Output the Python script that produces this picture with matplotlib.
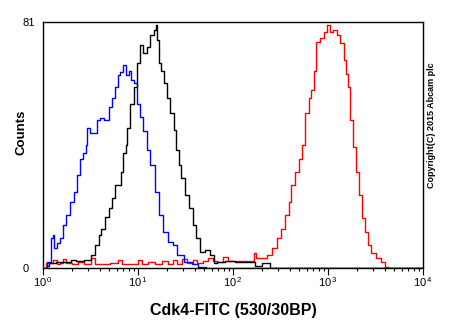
import numpy as np
import matplotlib
matplotlib.use("Agg")
import matplotlib.pyplot as plt
from matplotlib.ticker import LogLocator, FixedLocator, FixedFormatter, NullFormatter

plt.rcParams['font.family'] = ['Liberation Sans', 'DejaVu Sans']
plt.rcParams['mathtext.fontset'] = 'custom'
plt.rcParams['mathtext.rm'] = 'Liberation Sans'

# log10 of FITC intensity and counts
blue_log = [0.02, 0.07, 0.09, 0.11, 0.13, 0.16, 0.20, 0.23, 0.26, 0.31, 0.34, 0.37, 0.41, 0.44, 0.46,
            0.47, 0.52, 0.55, 0.58, 0.62, 0.67, 0.71, 0.74, 0.78, 0.79, 0.83, 0.86, 0.88, 0.92, 0.94,
            0.97, 1.00, 1.04, 1.07, 1.11, 1.15, 1.20, 1.25, 1.28, 1.34, 1.39, 1.44, 1.53, 1.60, 1.67,
            1.75, 4.00]
blue_counts = [0, 2, 10, 11, 6.6, 8.2, 10, 14, 17.5, 21.7, 25, 30.6, 36, 38, 40.5,
               46, 44.5, 44.5, 48.7, 49.4, 48.7, 53, 56, 59.6, 63.5, 64.5, 66.8, 63.5, 65, 62,
               61, 54, 49.7, 45, 39, 34, 25, 17.5, 12, 8.6, 7.6, 4.3, 2, 1.3, 0.3,
               0, 0]

black_log = [0.04, 0.09, 0.18, 0.28, 0.31, 0.39, 0.47, 0.53, 0.57, 0.60, 0.63, 0.67, 0.71, 0.74,
             0.78, 0.81, 0.83, 0.86, 0.88, 0.89, 0.94, 0.97, 1.00, 1.04, 1.07, 1.11, 1.15, 1.18,
             1.20, 1.21, 1.23, 1.26, 1.28, 1.32, 1.36, 1.39, 1.42, 1.44, 1.47, 1.52, 1.55, 1.60,
             1.63, 1.67, 1.73, 1.78, 1.81, 1.86, 1.97, 2.07, 2.21, 2.26, 2.34, 2.37, 2.41, 4.00]
black_counts = [0.5, 1.6, 2, 2, 2.6, 2.3, 2.6, 4.3, 7.6, 11, 13, 16.8, 19.7, 23,
                27.3, 27.3, 31.6, 38, 40.5, 46, 54, 59.6, 67.5, 73.4, 70.8, 72.8, 76.7, 78.4,
                80, 75, 67.5, 65, 61, 56, 51, 45.4, 38.8, 34, 29.6, 24, 19.7, 14,
                10, 5.3, 6, 4.3, 1.6, 2, 2.3, 2, 2, 0.5, 1.6, 1.6, 0, 0]

red_log = [0.02, 0.05, 0.09, 0.13, 0.16, 0.20, 0.23, 0.26, 0.34, 0.39, 0.47, 0.53, 0.57, 0.65,
           0.76, 0.81, 0.86, 0.97, 1.02, 1.07, 1.13, 1.23, 1.28, 1.34, 1.39, 1.44, 1.49, 1.55,
           1.60, 1.65, 1.71, 1.76, 1.81, 1.86, 1.92, 1.97, 2.21, 2.23, 2.26, 2.32, 2.39, 2.44,
           2.49, 2.53, 2.57, 2.60, 2.63, 2.67, 2.71, 2.74, 2.78, 2.81, 2.84, 2.86, 2.89, 2.94,
           2.97, 3.00, 3.04, 3.07, 3.11, 3.15, 3.18, 3.20, 3.22, 3.25, 3.28, 3.31, 3.34, 3.37,
           3.41, 3.44, 3.47, 3.53, 3.58, 3.62, 3.65, 4.00]
red_counts = [0, 1.5, 1.5, 2.6, 1.3, 1.5, 3, 1.5, 1.3, 2, 1.3, 3.3, 1.3, 1.3,
              1.6, 2.6, 1.3, 1.3, 2.6, 1.3, 2, 1.3, 2.3, 1.3, 2.6, 1.3, 3, 1.6,
              2.6, 1.6, 2.3, 3.3, 2.3, 2, 3.6, 2.3, 2.3, 4.9, 3.3, 3.3, 4.3, 6.6,
              10, 13, 17.5, 21.7, 27.3, 31.6, 36, 40.5, 51, 56, 58.6, 65, 74.4, 75.7,
              77.7, 80, 77.7, 78.4, 76.7, 74, 68.5, 64, 59.6, 48.7, 40, 31.6, 24, 16.5,
              12, 7.6, 4.9, 3.3, 2, 0.3, 0, 0]

x_decades = [0, 1, 2, 3, 4]
y_ticks = [0, 81]

fig = plt.figure(figsize=(4.5, 3.3), dpi=100)
ax = fig.add_axes([43/450, 62/330, 380/450, 246/330])

ax.plot(10**np.array(red_log), red_counts, color='#ff0000', lw=1.0, drawstyle='steps-mid')
ax.plot(10**np.array(black_log), black_counts, color='black', lw=1.0, drawstyle='steps-mid')
ax.plot(10**np.array(blue_log), blue_counts, color='#0000ff', lw=1.0, drawstyle='steps-mid')

ax.set_xscale('log')
ax.set_xlim(1, 1e4)
ax.set_ylim(0, 81)

ax.xaxis.set_major_locator(FixedLocator([10.0**d for d in x_decades]))
ax.xaxis.set_major_formatter(FixedFormatter([r'$\mathregular{10^{\,%d}}$' % d for d in x_decades]))
ax.xaxis.set_minor_locator(LogLocator(base=10, subs=np.arange(2, 10)))
ax.xaxis.set_minor_formatter(NullFormatter())
ax.tick_params(axis='x', which='major', direction='out', length=5, width=0.8, labelsize=8, pad=0)
ax.tick_params(axis='x', which='minor', direction='out', length=2.5, width=0.8)

ax.set_yticks(y_ticks)
ax.set_yticklabels([str(v) for v in y_ticks])
ax.tick_params(axis='y', length=0, labelsize=8, pad=15)
for lab in ax.get_yticklabels():
    lab.set_horizontalalignment('left')

for s in ax.spines.values():
    s.set_linewidth(1.0)

ax.set_xlabel('Cdk4-FITC (530/30BP)', fontsize=11.5, fontweight='bold', labelpad=10)
ax.set_ylabel('Counts', fontsize=9.5, fontweight='bold')
ax.yaxis.set_label_coords(-0.04, 0.55)

fig.text(431/450, 1 - 125/330, 'Copyright(C) 2015 Abcam plc', rotation=90,
         fontsize=6.5, fontweight='bold', ha='center', va='center')

fig.savefig('out.png', dpi=100)
